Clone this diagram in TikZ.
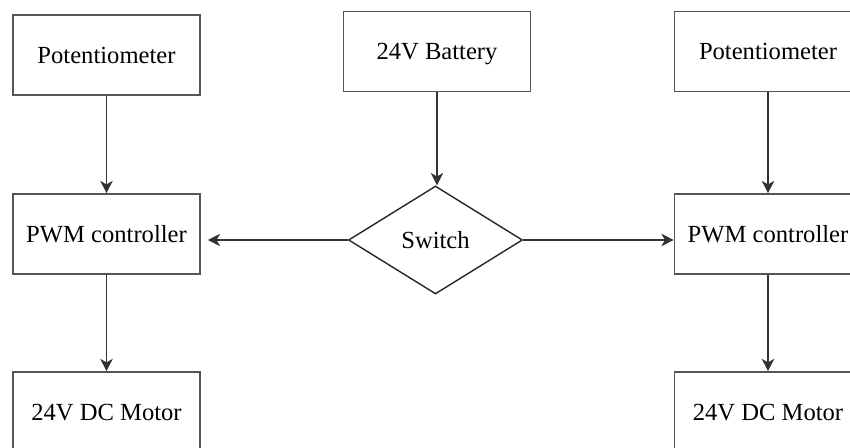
\documentclass[tikz,border=0pt]{standalone}
\usepackage{fontspec}
\setmainfont{Liberation Serif}
\usetikzlibrary{shapes.geometric,arrows.meta,positioning}
\definecolor{boxGray}{RGB}{85,85,85}

\begin{document}
\begin{tikzpicture}[
  blk/.style={rectangle,draw=boxGray,line width=0.9pt,minimum width=3.74cm,text depth=0pt,
              minimum height=1.6cm,align=center,font=\fontsize{14}{16}\selectfont},
  sw/.style={diamond,draw=black!85,line width=0.8pt,inner sep=0pt,minimum width=3.48cm,
             minimum height=2.16cm,aspect=1.61,font=\fontsize{14}{16}\selectfont},
  fl/.style={-{Stealth[length=7pt,width=7pt,inset=2pt]},line width=0.9pt,draw=black!80}
]
  \useasboundingbox (0,0) rectangle (17,-8.96);
  \clip (0,0) rectangle (17,-8.96);
  \node[blk](potL) at (2.13,-1.10)  {Potentiometer};
  \node[blk](bat)  at (8.74,-1.03)  {24V Battery};
  \node[blk](potR) at (15.36,-1.03) {Potentiometer};
  \node[blk](pwmL) at (2.13,-4.68)  {PWM controller};
  \node[sw] (swi)  at (8.71,-4.80)  {Switch};
  \node[blk](pwmR) at (15.36,-4.68) {PWM controller};
  \node[blk](motL) at (2.13,-8.24)  {24V DC Motor};
  \node[blk](motR) at (15.36,-8.24) {24V DC Motor};
  \draw[fl](potL)--(pwmL);
  \draw[fl](bat.south)--(bat.south|-swi.north);
  \draw[fl](potR)--(pwmR);
  \draw[fl,shorten >=0.14cm](swi.west)--(swi.west-|pwmL.east);
  \draw[fl](swi.east)--(swi.east-|pwmR.west);
  \draw[fl](pwmL)--(motL);
  \draw[fl](pwmR)--(motR);
\end{tikzpicture}
\end{document}
